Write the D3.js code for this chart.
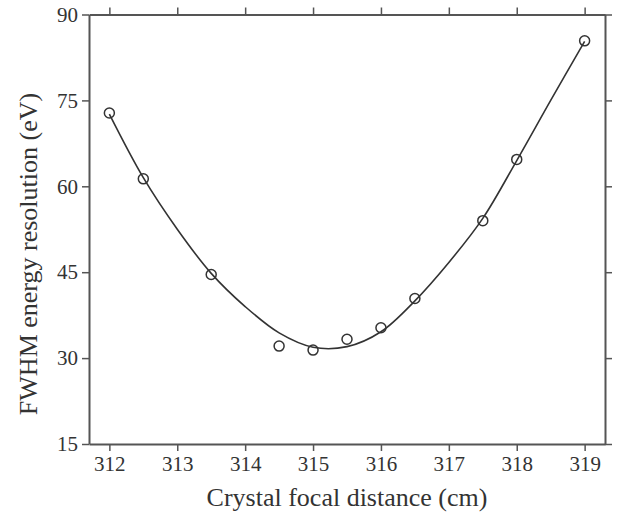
<!DOCTYPE html>
<html>
<head>
<meta charset="utf-8">
<script src="https://cdn.jsdelivr.net/npm/d3@7"></script>
<style>
  body { margin: 0; background: #fff; }
</style>
</head>
<body>
<div id="chart"></div>
<script>
// chart size and plot box
const width = 621;
const height = 515;
const margin = {left: 89, right: 16, top: 14.5, bottom: 71};

// measured points
const distance = [312, 312.5, 313.5, 314.5, 315, 315.5, 316, 316.5, 317.5, 318, 319];
const fwhm = [72.8, 61.3, 44.6, 32.1, 31.4, 33.3, 35.3, 40.4, 54.0, 64.7, 85.4];

// fitted curve
const fitX = [312, 312.5, 313, 313.5, 314, 314.5, 315, 315.5, 316, 316.5, 317, 317.5, 318, 318.5, 319];
const fitY = [72.6, 61.5, 52.5, 44.8, 39.0, 34.4, 31.9, 32.0, 34.6, 40.0, 46.7, 54.4, 64.5, 75.0, 85.3];

const xTicks = [312, 313, 314, 315, 316, 317, 318, 319];
const yTicks = [15, 30, 45, 60, 75, 90];

const serif = "'Liberation Serif', 'Times New Roman', 'DejaVu Serif', serif";

const svg = d3.select("#chart")
  .append("svg")
  .attr("width", width)
  .attr("height", height);

const x = d3.scaleLinear()
  .domain([311.7, 319.3])
  .range([margin.left, width - margin.right]);

const y = d3.scaleLinear()
  .domain([15, 90])
  .range([height - margin.bottom, margin.top]);

const axisColor = "#555";

// axes on all four sides, ticks pointing out
const axBottom = svg.append("g")
  .attr("transform", `translate(0,${height - margin.bottom})`)
  .call(d3.axisBottom(x).tickValues(xTicks).tickSize(7).tickPadding(5).tickSizeOuter(0));
const axTop = svg.append("g")
  .attr("transform", `translate(0,${margin.top})`)
  .call(d3.axisTop(x).tickValues(xTicks).tickSize(7).tickFormat("").tickSizeOuter(0));
const axLeft = svg.append("g")
  .attr("transform", `translate(${margin.left},0)`)
  .call(d3.axisLeft(y).tickValues(yTicks).tickSize(7).tickPadding(4).tickSizeOuter(0));
const axRight = svg.append("g")
  .attr("transform", `translate(${width - margin.right},0)`)
  .call(d3.axisRight(y).tickValues(yTicks).tickSize(7).tickFormat("").tickSizeOuter(0));

[axBottom, axTop, axLeft, axRight].forEach(g => {
  g.attr("font-family", serif).attr("font-size", 21);
  g.select(".domain").attr("stroke", axisColor).attr("stroke-width", 2);
  g.selectAll(".tick line").attr("stroke", axisColor).attr("stroke-width", 1.5);
  g.selectAll(".tick text").attr("fill", "#333");
});

// fit line
const line = d3.line()
  .x(i => x(fitX[i]))
  .y(i => y(fitY[i]))
  .curve(d3.curveCatmullRom);

svg.append("path")
  .attr("d", line(d3.range(fitX.length)))
  .attr("fill", "none")
  .attr("stroke", "#333")
  .attr("stroke-width", 1.6);

// data points
svg.selectAll(".pt")
  .data(d3.range(distance.length))
  .enter()
  .append("circle")
    .attr("class", "pt")
    .attr("cx", i => x(distance[i]))
    .attr("cy", i => y(fwhm[i]))
    .attr("r", 5)
    .attr("fill", "none")
    .attr("stroke", "#333")
    .attr("stroke-width", 1.5);

// axis titles
svg.append("text")
  .attr("x", (margin.left + width - margin.right) / 2)
  .attr("y", 506)
  .attr("text-anchor", "middle")
  .attr("font-family", serif)
  .attr("font-size", 26)
  .attr("fill", "#333")
  .text("Crystal focal distance (cm)");

svg.append("text")
  .attr("transform", "translate(37,254) rotate(-90)")
  .attr("text-anchor", "middle")
  .attr("font-family", serif)
  .attr("font-size", 26)
  .attr("fill", "#333")
  .text("FWHM energy resolution (eV)");
</script>
</body>
</html>
